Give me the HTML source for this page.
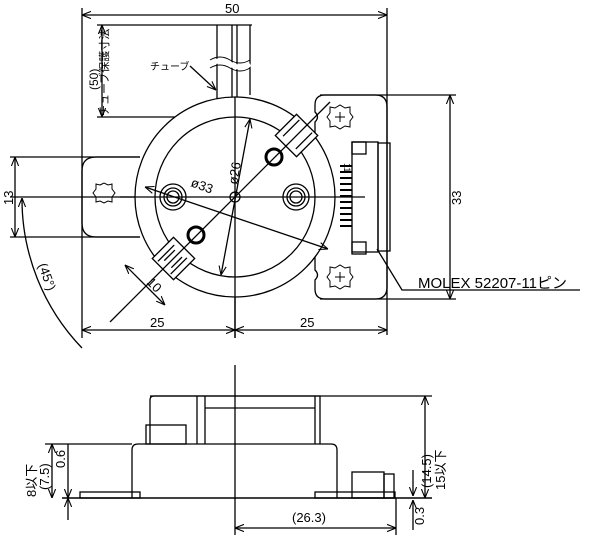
<!DOCTYPE html>
<html><head><meta charset="utf-8"><style>body{margin:0;background:#fff}svg{display:block}</style></head><body>
<svg width="600" height="542" viewBox="0 0 600 542" xmlns="http://www.w3.org/2000/svg" font-family="Liberation Sans, Noto Sans CJK JP, sans-serif">
<defs>
<marker id="a" viewBox="0 0 10 10" refX="10" refY="5" markerWidth="9" markerHeight="9" orient="auto-start-reverse" markerUnits="userSpaceOnUse"><path d="M0,1 L10,5 L0,9" fill="none" stroke="#000" stroke-width="1.2"/></marker>
</defs>
<g stroke="#000" stroke-width="1.3" fill="none">
<line x1="82" y1="8" x2="82" y2="338"/>
<line x1="387" y1="8" x2="387" y2="335"/>
<line x1="235" y1="100" x2="235" y2="338"/>
<line x1="10" y1="197" x2="365" y2="197"/>
<line x1="10" y1="157" x2="140" y2="157"/>
<line x1="10" y1="237" x2="140" y2="237"/>
<line x1="320" y1="95" x2="456" y2="95"/>
<line x1="320" y1="299" x2="456" y2="299"/>
<line x1="82" y1="15" x2="387" y2="15" marker-start="url(#a)" marker-end="url(#a)"/>
<line x1="82" y1="330" x2="235" y2="330" marker-start="url(#a)" marker-end="url(#a)"/>
<line x1="235" y1="330" x2="387" y2="330" marker-start="url(#a)" marker-end="url(#a)"/>
<line x1="15" y1="157" x2="15" y2="237" marker-start="url(#a)" marker-end="url(#a)"/>
<line x1="450" y1="95" x2="450" y2="299" marker-start="url(#a)" marker-end="url(#a)"/>
<line x1="102" y1="25" x2="102" y2="117" marker-start="url(#a)" marker-end="url(#a)"/>
<line x1="97" y1="25" x2="252" y2="25"/>
<line x1="97" y1="117" x2="240" y2="117"/>
<path d="M22,198 A215,215 0 0 0 82,348" marker-start="url(#a)"/>
<line x1="217" y1="25" x2="217" y2="117"/>
<line x1="250" y1="25" x2="250" y2="95"/>
<line x1="232" y1="25" x2="232" y2="117"/>
<line x1="237" y1="25" x2="237" y2="117"/>
<path d="M210,64 q10,-6 20,0 t20,0" stroke="#fff" stroke-width="5"/>
<path d="M210,60 q10,-6 20,0 t20,0 M210,68 q10,-6 20,0 t20,0" stroke-width="1"/>
<line x1="190" y1="66" x2="216" y2="90" marker-end="url(#a)"/>
<path d="M140,157 H96 Q82,157 82,171 V223 Q82,237 96,237 H140"/>
<path d="M100,185 l4,-2 l4,2 l4,-1 l0,5 l3,4 l-3,4 l0,5 l-4,-1 l-4,2 l-4,-2 l-4,1 l0,-5 l-3,-4 l3,-4 l0,-5z" stroke-width="1"/>
<path d="M325,95 H375 Q387,95 387,107 V287 Q387,299 375,299 H325 Q315,299 315,289 V280 Q320,275 315,270 V122 Q320,117 315,112 V105 Q315,95 325,95Z"/>
<path d="M335,108 l5,-3 l5,3 l5,-1 l0,6 l3,4 l-3,4 l0,6 l-5,-1 l-5,3 l-5,-3 l-5,1 l0,-6 l-3,-4 l3,-4 l0,-6z M340,112 v10 M335,117 h10" stroke-width="1"/>
<path d="M335,268 l5,-3 l5,3 l5,-1 l0,6 l3,4 l-3,4 l0,6 l-5,-1 l-5,3 l-5,-3 l-5,1 l0,-6 l-3,-4 l3,-4 l0,-6z M340,272 v10 M335,277 h10" stroke-width="1"/>
<rect x="352" y="142" width="26" height="110"/>
<rect x="378" y="143" width="12" height="108"/>
<rect x="352" y="142" width="14" height="12"/>
<rect x="352" y="242" width="14" height="12"/>
<g stroke-width="2"><line x1="340" y1="166" x2="352" y2="166"/><line x1="340" y1="172" x2="352" y2="172"/><line x1="340" y1="178" x2="352" y2="178"/><line x1="340" y1="184" x2="352" y2="184"/><line x1="340" y1="190" x2="352" y2="190"/><line x1="340" y1="196" x2="352" y2="196"/><line x1="340" y1="202" x2="352" y2="202"/><line x1="340" y1="208" x2="352" y2="208"/><line x1="340" y1="214" x2="352" y2="214"/><line x1="340" y1="220" x2="352" y2="220"/><line x1="340" y1="226" x2="352" y2="226"/></g>
<polyline points="377,249 402,290 580,290"/>
<circle cx="235" cy="197" r="100" fill="#fff"/>
<circle cx="235" cy="197" r="80"/>
<line x1="235" y1="97" x2="235" y2="338"/>
<line x1="120" y1="197" x2="335" y2="197"/>
<g transform="rotate(-45 235 197)">
<rect x="307" y="182" width="30" height="30" fill="#fff"/>
<rect x="133" y="182" width="30" height="30" fill="#fff"/>
<line x1="312" y1="188" x2="335" y2="188"/><line x1="312" y1="206" x2="335" y2="206"/>
<line x1="135" y1="188" x2="158" y2="188"/><line x1="135" y1="206" x2="158" y2="206"/>
<line x1="140" y1="192" x2="155" y2="192"/><line x1="140" y1="202" x2="155" y2="202"/>
</g>
<line x1="110" y1="322" x2="330" y2="102"/>
<line x1="145" y1="187" x2="328" y2="249" marker-start="url(#a)" marker-end="url(#a)"/>
<line x1="250" y1="119" x2="221" y2="275" marker-start="url(#a)" marker-end="url(#a)"/>
<line x1="125" y1="265" x2="165" y2="305" marker-start="url(#a)" marker-end="url(#a)"/>
<circle cx="235" cy="197" r="5"/>
<circle cx="173" cy="197" r="13"/><circle cx="173" cy="197" r="9"/><circle cx="173" cy="197" r="6"/>
<circle cx="296" cy="197" r="13"/><circle cx="296" cy="197" r="9"/><circle cx="296" cy="197" r="6"/>
<circle cx="274" cy="157" r="8" stroke-width="3"/>
<circle cx="196" cy="235" r="8" stroke-width="3"/>
<line x1="235" y1="365" x2="235" y2="535"/>
<line x1="62" y1="498" x2="432" y2="498" stroke-width="1.6"/>
<path d="M150,444 V400 Q150,396 154,396 H320 V444"/>
<line x1="150" y1="396" x2="432" y2="396"/>
<rect x="146" y="425" width="40" height="19"/>
<line x1="197" y1="396" x2="197" y2="444"/><line x1="205" y1="396" x2="205" y2="444"/>
<line x1="205" y1="408" x2="315" y2="408"/><line x1="315" y1="396" x2="315" y2="444"/>
<path d="M132,498 V450 Q132,444 138,444 H331 Q337,444 337,450 V498"/>
<line x1="45" y1="444" x2="132" y2="444"/>
<rect x="80" y="492" width="60" height="6"/><rect x="315" y="492" width="80" height="6"/>
<rect x="352" y="472" width="32" height="26"/><rect x="384" y="474" width="10" height="24"/>
<line x1="52" y1="444" x2="52" y2="498" marker-start="url(#a)" marker-end="url(#a)"/>
<line x1="68" y1="444" x2="68" y2="498" marker-end="url(#a)"/>
<line x1="68" y1="520" x2="68" y2="498" marker-end="url(#a)"/>
<line x1="425" y1="396" x2="425" y2="498" marker-start="url(#a)" marker-end="url(#a)"/>
<line x1="413" y1="470" x2="413" y2="496" marker-end="url(#a)"/>
<line x1="413" y1="530" x2="413" y2="500" marker-end="url(#a)"/>
<line x1="396" y1="498" x2="396" y2="535"/>
<line x1="235" y1="528" x2="396" y2="528" marker-start="url(#a)" marker-end="url(#a)"/>
</g>
<g font-size="13" fill="#000">
<text x="225" y="13">50</text>
<text x="150" y="327">25</text>
<text x="300" y="327">25</text>
<text x="150" y="70" font-size="10">チューブ</text>
<text x="190" y="186" transform="rotate(20 190 186)">ø33</text>
<text x="0" y="0" transform="translate(237 185) rotate(-80)">ø26</text>
<text x="0" y="0" transform="translate(146 283) rotate(45)">10</text>
<text x="0" y="0" transform="translate(13 205) rotate(-90)">13</text>
<text x="0" y="0" transform="translate(461 205) rotate(-90)">33</text>
<text x="0" y="0" transform="translate(38 265) rotate(70)">(45°)</text>
<text x="0" y="0" transform="translate(98 90) rotate(-90)" font-size="12">(50)</text>
<text x="0" y="0" transform="translate(108 116) rotate(-90)" font-size="11">チューブ保護寸法</text>
<text x="0" y="0" transform="translate(344 163) rotate(90)" font-size="9">11</text>
<text x="0" y="0" transform="translate(431 488) rotate(-90)">(14.5)</text>
<text x="0" y="0" transform="translate(445 490) rotate(-90)">15以下</text>
<text x="0" y="0" transform="translate(424 525) rotate(-90)">0.3</text>
<text x="292" y="522">(26.3)</text>
<text x="0" y="0" transform="translate(36 497) rotate(-90)">8以下</text>
<text x="0" y="0" transform="translate(49 490) rotate(-90)">(7.5)</text>
<text x="0" y="0" transform="translate(65 468) rotate(-90)">0.6</text>
</g>
<text x="418" y="288" font-size="15" font-family="Liberation Sans, Noto Sans CJK JP, sans-serif">MOLEX 52207-11ピン</text>
</svg>
</body></html>
